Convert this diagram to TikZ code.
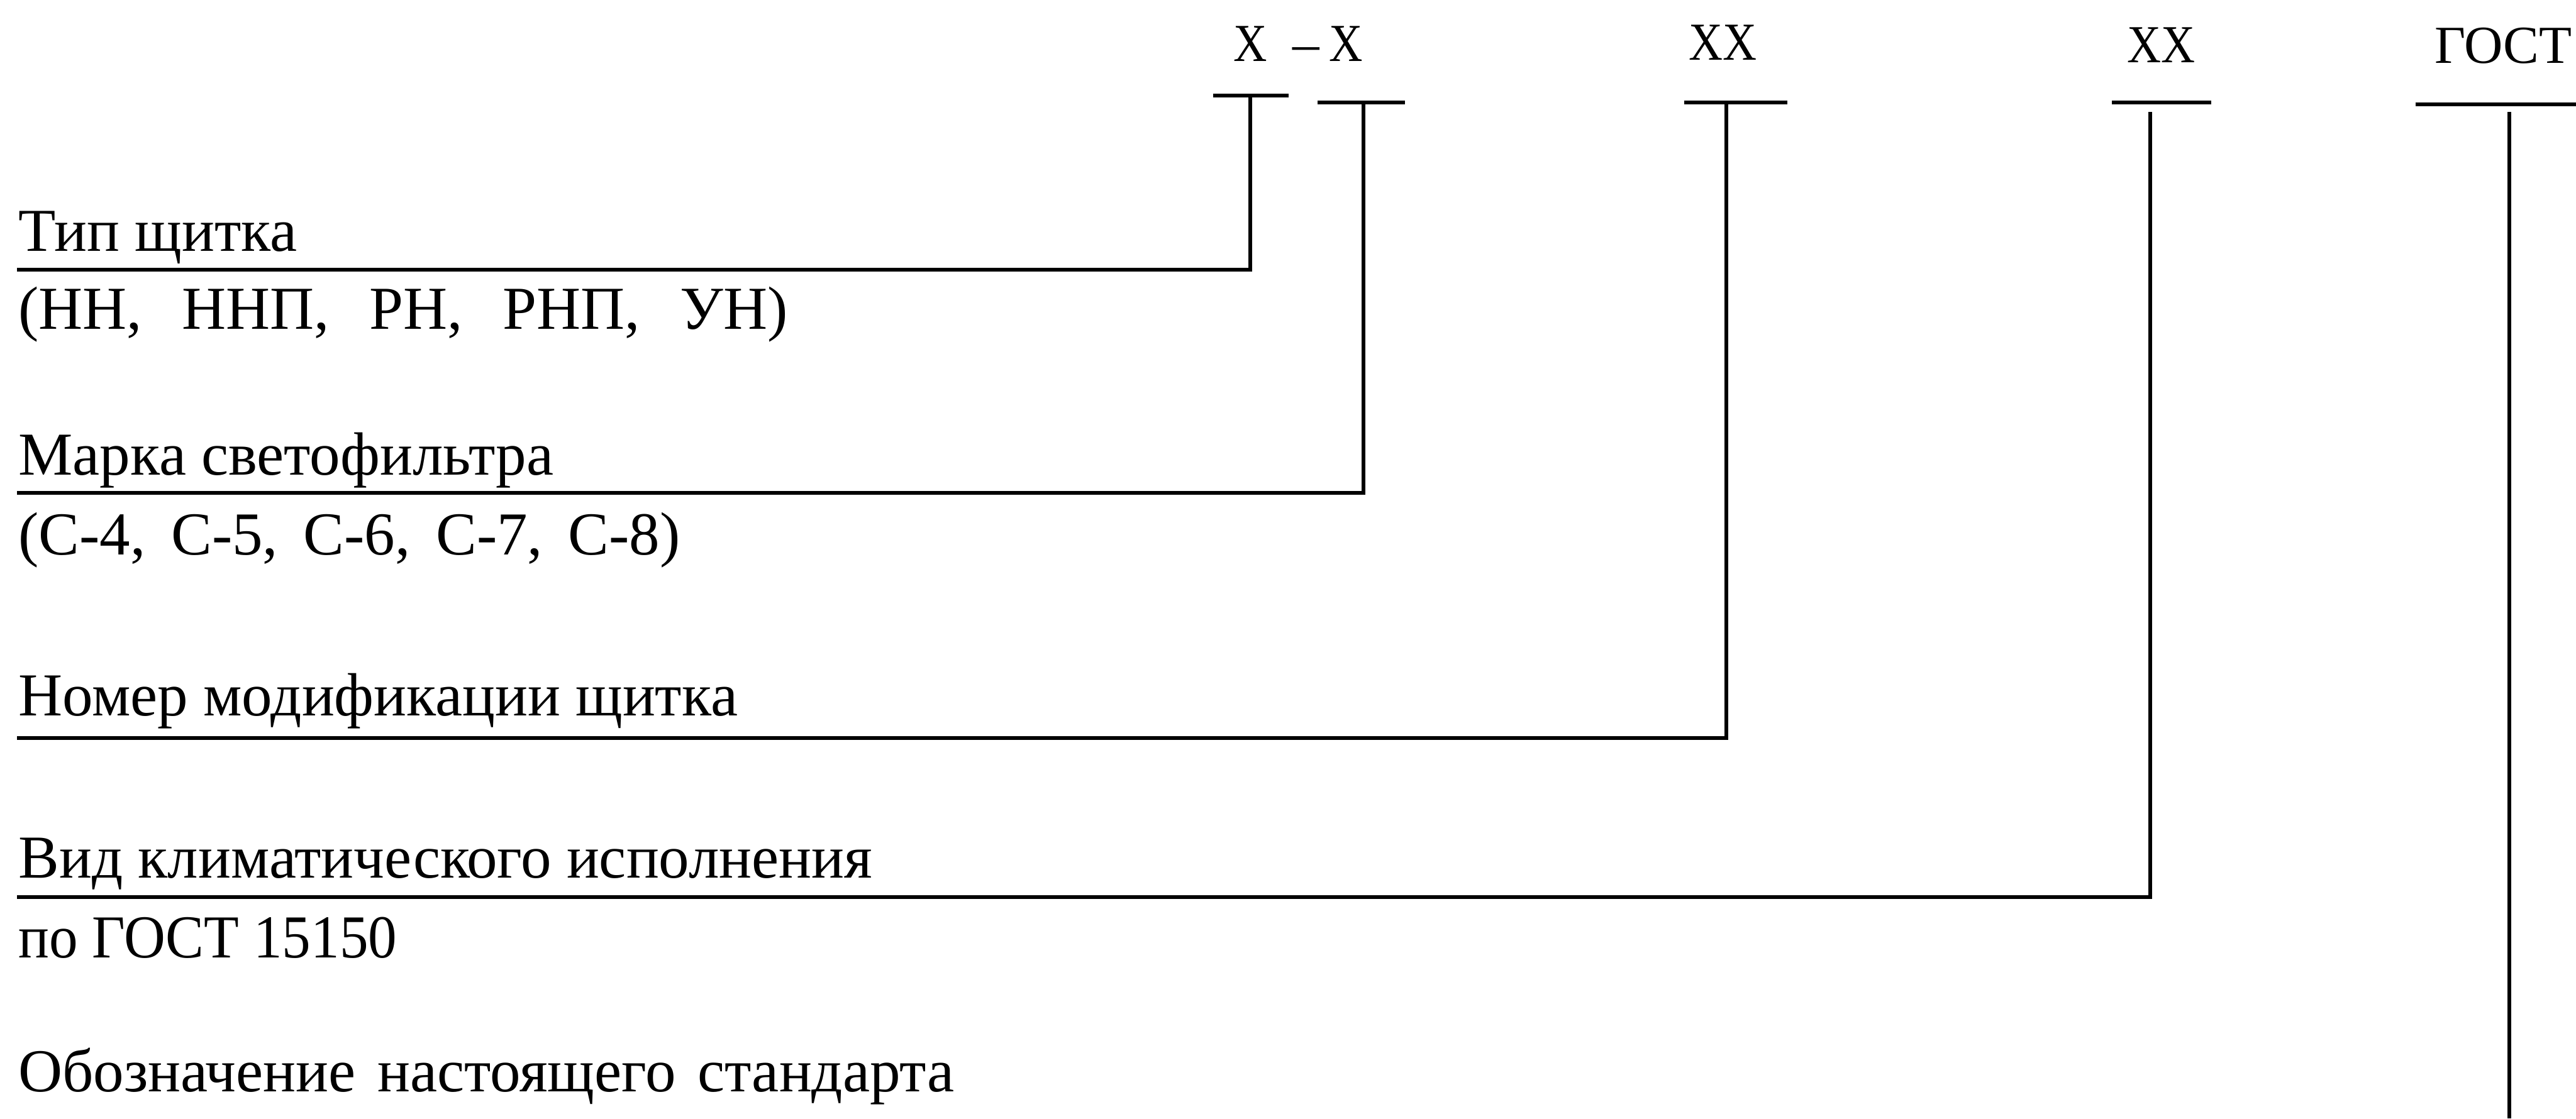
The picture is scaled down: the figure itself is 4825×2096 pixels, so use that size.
\documentclass[tikz,border=0pt]{standalone}
\usepackage{fontspec}
\setmainfont{Liberation Serif}
\usetikzlibrary{positioning}

\begin{document}
\begin{tikzpicture}[x=.01cm,y=-.01cm,font=\fontsize{32.5}{39}\selectfont,
  lbl/.style={anchor=base west,inner sep=0pt},
  code/.style={anchor=base,inner sep=0pt,font=\fontsize{28.5}{34}\selectfont},
  ln/.style={line width=2pt}]
\useasboundingbox (0,0) rectangle (4825,2096);
% designation
\node[code,xscale=.87] (x1) at (2342,115) {Х};
\node[code] (dash) at (2446,115) {–};
\node[code,xscale=.87] (x2) at (2521,115) {Х};
\node[code,xscale=.88] (x3) at (3227,112) {ХХ};
\node[code,xscale=.88] (x4) at (4048,117) {ХХ};
\node[code,anchor=base east] (gost) at (4818,118) {ГОСТ};
\foreach \a/\b/\y in {2272/2414/179,2468/2631/192,3155/3348/192,3956/4142/192,4524/4825/195}
 \draw[ln] (\a,\y)--(\b,\y);
% labels
\node[lbl] (tip) at (34,470) {Тип щитка};
\node[lbl] (tipv) at (34,617) {(НН,\hspace{.75cm}ННП,\hspace{.75cm}РН,\hspace{.75cm}РНП,\hspace{.75cm}УН)};
\node[lbl] (mark) at (34,890) {Марка светофильтра};
\node[lbl] (markv) at (34,1039) {(С-4,\hspace{.48cm}С-5,\hspace{.48cm}С-6,\hspace{.48cm}С-7,\hspace{.48cm}С-8)};
\node[lbl] (mod) at (34,1341) {Номер модификации щитка};
\node[lbl] (klim) at (34,1645) {Вид климатического исполнения};
\node[lbl,xscale=.94] (klimv) at (34,1795) {по ГОСТ 15150};
\node[lbl] (std) at (34,2046) {Обозначение\hspace{.41cm}настоящего\hspace{.41cm}стандарта};
% leaders
\coordinate (t1) at (2342,179); \coordinate (e1) at (32,505);
\coordinate (t2) at (2554,192); \coordinate (e2) at (32,924);
\coordinate (t3) at (3233,192); \coordinate (e3) at (32,1383);
\coordinate (t4) at (4027,210); \coordinate (e4) at (32,1681);
\coordinate (t5) at (4700,210); \coordinate (e5) at (4700,2096);
\foreach \i in {1,...,4}
 \draw[ln] (t\i) |- (e\i);
\draw[ln] (t5)--(e5);
\end{tikzpicture}
\end{document}
